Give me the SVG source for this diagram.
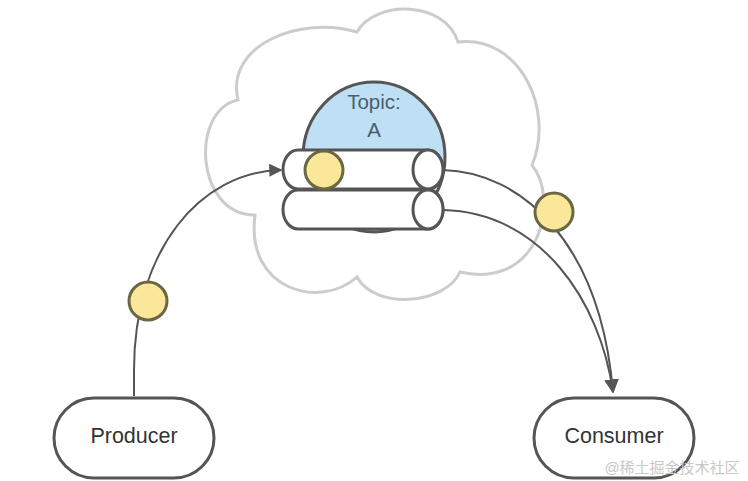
<svg xmlns="http://www.w3.org/2000/svg" width="748" height="481" viewBox="0 0 748 481">
<defs>
<style>
.node{fill:#fff;stroke:#555;stroke-width:3}
.lbl{font-family:"Liberation Sans",Arial,sans-serif;font-size:21.5px;fill:#333;text-anchor:middle}
.tlbl{font-family:"Liberation Sans",Arial,sans-serif;font-size:20.5px;fill:#4a5e6e;text-anchor:middle}
.dot{fill:#fbe79a;stroke:#6b6745;stroke-width:3}
.cyl{fill:#fff;stroke:#555;stroke-width:3}
.edge{fill:none;stroke:#555;stroke-width:2}
</style>
<marker id="arr" viewBox="0 0 10 10" refX="9" refY="5" markerWidth="13" markerHeight="13" markerUnits="userSpaceOnUse" orient="auto">
<path d="M0,0 L10,5 L0,10 Z" fill="#555"/>
</marker>
<marker id="arr2" viewBox="0 0 10 10" refX="9" refY="5" markerWidth="14" markerHeight="14" markerUnits="userSpaceOnUse" orient="auto">
<path d="M0,0 L10,5 L0,10 Z" fill="#555"/>
</marker>
</defs>
<rect width="748" height="481" fill="#fff"/>
<g id="cloud">
<path d="M238,100 C225,45 300,15 357,32 C375,0 445,0 458,42 C520,35 555,110 532,165 C560,200 540,290 460,272 C445,305 375,310 357,277 C320,310 245,290 255,215 C195,215 190,110 238,100 Z" fill="#fff" stroke="#ccc" stroke-width="3"/>
</g>
<g id="topic">
<ellipse cx="374" cy="157" rx="71" ry="75" fill="#bfe0f4" stroke="#555" stroke-width="3"/>
<text class="tlbl" x="374" y="109">Topic:</text>
<text class="tlbl" x="374" y="137">A</text>
</g>
<g id="partition2">
<path class="cyl" d="M298,190 L428,190 A15,19.5 0 0 1 428,229 L298,229 A15,19.5 0 0 1 298,190 Z"/>
<ellipse class="cyl" cx="428" cy="209.5" rx="15" ry="19.5"/>
</g>
<g id="partition1">
<path class="cyl" d="M298,150 L428,150 A15,19.5 0 0 1 428,189 L298,189 A15,19.5 0 0 1 298,150 Z"/>
<ellipse class="cyl" cx="428" cy="169.5" rx="15" ry="19.5"/>
<circle class="dot" cx="324" cy="170" r="19"/>
</g>
<g id="connectors">
<path class="edge" d="M134,396 L134,370 C134,250 200,172 281,170" marker-end="url(#arr)"/>
<path class="edge" d="M443,170 C520,172 600,240 613,392" marker-end="url(#arr2)"/>
<path class="edge" d="M443,210 C540,212 600,300 613,392" marker-end="url(#arr2)"/>
<circle class="dot" cx="148" cy="301" r="19"/>
<circle class="dot" cx="554" cy="212" r="19"/>
</g>
<g id="producer">
<rect class="node" x="54" y="398" width="160" height="80" rx="40"/>
<text class="lbl" x="134" y="443">Producer</text>
</g>
<g id="consumer">
<rect class="node" x="534" y="398" width="160" height="80" rx="40"/>
<text class="lbl" x="614" y="443">Consumer</text>
</g>
<text x="672" y="473" font-family="'Liberation Sans','Noto Sans CJK SC',sans-serif" font-size="15" fill="#c8c8c8" text-anchor="middle">@稀土掘金技术社区</text>
</svg>
